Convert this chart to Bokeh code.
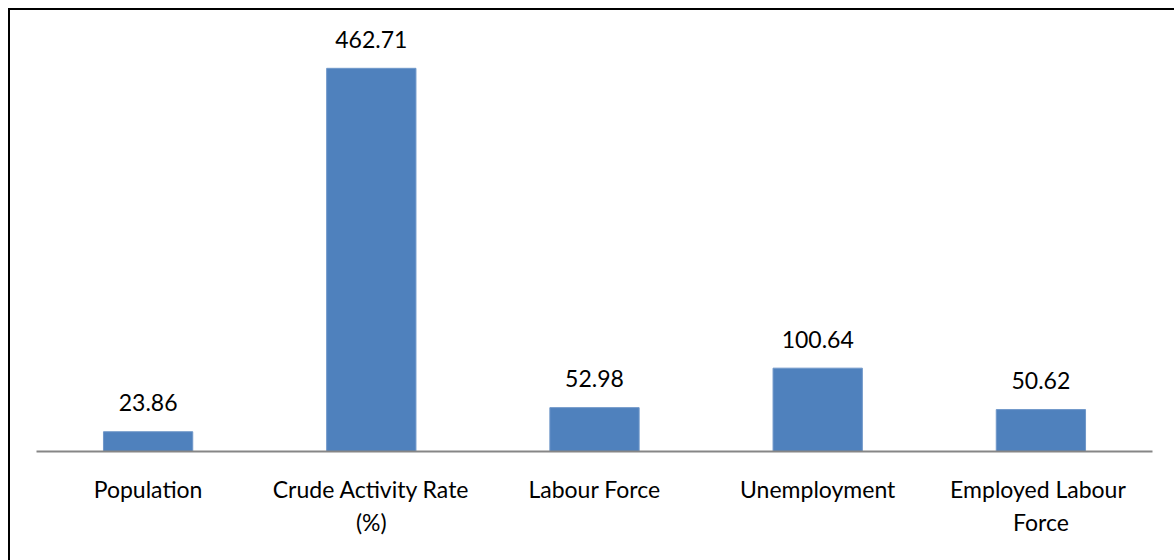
from bokeh.plotting import figure
from bokeh.models import FactorRange, Range1d, ColumnDataSource, Div, Spacer
from bokeh.layouts import column, row
from bokeh.core.properties import value
from bokeh.embed import file_html
from bokeh.resources import INLINE

categories = ["Population", "Crude Activity Rate\n(%)", "Labour Force", "Unemployment", "Employed  Labour\nForce"]
values = [23.86, 462.71, 52.98, 100.64, 50.62]
value_labels = ["23.86", "462.71", "52.98", "100.64", "50.62"]

FONT = "Lato"

src = ColumnDataSource(dict(cat=categories, val=values, lab=value_labels))

p = figure(
    x_range=FactorRange(factors=categories),
    y_range=Range1d(0, 526.5),
    width=1164, height=550,
    output_backend="svg", toolbar_location=None,
    min_border_left=26, min_border_right=22, min_border_top=5, min_border_bottom=109,
    margin=(0, 0, 0, 0),
)

p.vbar(x="cat", top="val", width=0.4, source=src, fill_color="#4F81BD", line_color="#6f97c9", line_width=1)
p.text(x="cat", y="val", text="lab", source=src, text_align="center", text_baseline="alphabetic",
       y_offset=-29, text_font=value(FONT), text_font_size="23px", text_color="#000000")

p.xaxis.axis_line_color = "#868686"
p.xaxis.axis_line_width = 2
p.xaxis.major_tick_line_color = None
p.xaxis.minor_tick_line_color = None
p.xaxis.major_label_text_font = FONT
p.xaxis.major_label_text_font_size = "23px"
p.xaxis.major_label_text_color = "#000000"
p.xaxis.major_label_standoff = 17
p.yaxis.visible = False
p.xgrid.grid_line_color = None
p.ygrid.grid_line_color = None
p.outline_line_color = None
p.background_fill_color = "white"
p.border_fill_color = "white"

top_rule = Div(text="", width=1166, height=2, margin=(0, 0, 0, 0),
               styles={"background-color": "#000000"})
left_rule = Div(text="", width=2, height=550, margin=(0, 0, 0, 0),
                styles={"background-color": "#000000"})
top_gap = Spacer(width=1174, height=8, margin=(0, 0, 0, 0))
left_gap = Spacer(width=8, height=552, margin=(0, 0, 0, 0))

inner = column(top_rule, row(left_rule, p, spacing=0, margin=(0, 0, 0, 0)), spacing=0, margin=(0, 0, 0, 0))
layout = column(top_gap, row(left_gap, inner, spacing=0, margin=(0, 0, 0, 0)), spacing=0, margin=(0, 0, 0, 0))

open("out.html", "w").write(file_html(layout, INLINE))
